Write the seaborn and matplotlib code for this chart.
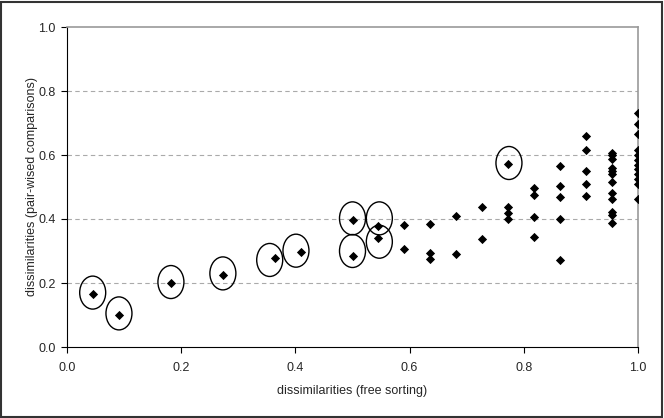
import matplotlib
matplotlib.use("Agg")
import matplotlib.pyplot as plt
import seaborn as sns
import pandas as pd
from matplotlib.patches import Ellipse, Rectangle

# ---- data ----
free_sorting = (
    [0.045, 0.091, 0.182, 0.273, 0.364, 0.409]
    + [0.500] * 2 + [0.545] * 2 + [0.591] * 2 + [0.636] * 3 + [0.682] * 2
    + [0.727] * 2 + [0.773] * 4 + [0.818] * 4 + [0.864] * 5 + [0.909] * 5
    + [0.955] * 12 + [1.000] * 12
)
pair_wised = [
    0.166, 0.100, 0.200, 0.225, 0.278, 0.297,
    0.397, 0.284,
    0.378, 0.342,
    0.380, 0.305,
    0.383, 0.295, 0.275,
    0.409, 0.291,
    0.437, 0.338,
    0.571, 0.438, 0.420, 0.400,
    0.496, 0.476, 0.405, 0.345,
    0.567, 0.503, 0.468, 0.401, 0.272,
    0.659, 0.616, 0.551, 0.509, 0.472,
    0.607, 0.599, 0.588, 0.558, 0.550, 0.541, 0.517, 0.480, 0.462, 0.422, 0.412, 0.387,
    0.730, 0.696, 0.665, 0.616, 0.600, 0.585, 0.570, 0.555, 0.540, 0.525, 0.510, 0.462,
]
# circled (highlighted) groups: centres of the hand-drawn ellipses
circle_x = [0.045, 0.091, 0.182, 0.273, 0.355, 0.401, 0.500, 0.500, 0.547, 0.547, 0.774]
circle_y = [0.170, 0.105, 0.203, 0.230, 0.272, 0.301, 0.402, 0.300, 0.402, 0.329, 0.575]

x_ticks = [0.0, 0.2, 0.4, 0.6, 0.8, 1.0]
y_ticks = [0.0, 0.2, 0.4, 0.6, 0.8, 1.0]

df = pd.DataFrame({"free": free_sorting, "pair": pair_wised})

sns.set_style("white")
plt.rcParams["font.family"] = ["Liberation Sans", "DejaVu Sans"]

fig = plt.figure(figsize=(6.64, 4.18), dpi=100)
ax = fig.add_axes([67 / 664, 1 - 347 / 418, 571 / 664, 320 / 418])

for yv in y_ticks[1:-1]:
    ax.axhline(yv, color="#aaaaaa", linestyle=(0, (4, 3)), linewidth=0.8, zorder=0)

sns.scatterplot(data=df, x="free", y="pair", marker="D", s=22, color="black",
                edgecolor="black", linewidth=0, ax=ax, zorder=3)

for cx, cy in zip(circle_x, circle_y):
    ax.add_patch(Ellipse((cx, cy), width=26 / 571, height=33 / 320, fill=False,
                         edgecolor="black", linewidth=1.0, zorder=4))

ax.set_xlim(0, 1)
ax.set_ylim(0, 1)
ax.set_xticks(x_ticks)
ax.set_yticks(y_ticks)
ax.set_xticklabels([f"{v:.1f}" for v in x_ticks])
ax.set_yticklabels([f"{v:.1f}" for v in y_ticks])
ax.tick_params(axis="both", direction="out", length=4, width=0.8, color="black",
               labelsize=9, bottom=True, left=True)
ax.tick_params(axis="x", pad=7)
ax.tick_params(axis="y", pad=4)
ax.set_xlabel("dissimilarities (free sorting)", fontsize=9, labelpad=8)
ax.set_ylabel("dissimilarities (pair-wised comparisons)", fontsize=9)
ax.yaxis.set_label_coords(-29 / 571, 0.5)

for side in ["top", "right"]:
    ax.spines[side].set_color("#999999")
    ax.spines[side].set_linewidth(1.2)
for side in ["left", "bottom"]:
    ax.spines[side].set_color("black")
    ax.spines[side].set_linewidth(0.8)

fig.patches.append(Rectangle((0.002, 0.003), 0.995, 0.993, transform=fig.transFigure,
                             fill=False, edgecolor="#333333", linewidth=1.5))

fig.savefig("out.png", dpi=100)
